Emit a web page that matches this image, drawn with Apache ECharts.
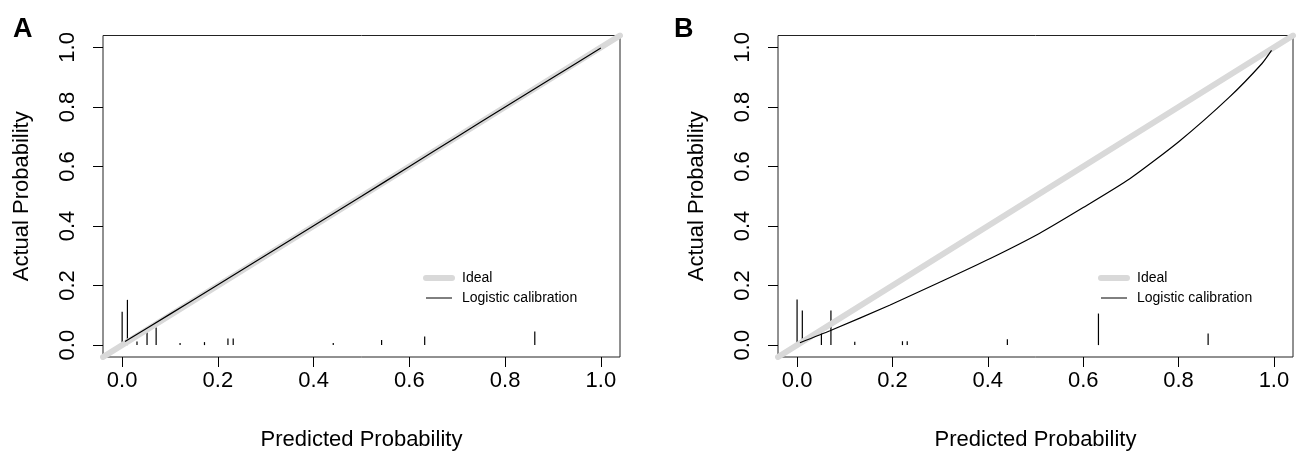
<!DOCTYPE html>
<html>
<head>
<meta charset="utf-8">
<script src="https://cdn.jsdelivr.net/npm/echarts@6/dist/echarts.min.js"></script>
<style>
html,body{margin:0;padding:0;background:#fff;}
#chart{width:1301px;height:456px;}
</style>
</head>
<body>
<div id="chart"></div>
<script>
// ---- data ----
const tickValues = [0, 0.2, 0.4, 0.6, 0.8, 1.0];
const panelLabels = ['A', 'B'];
const legendNames = ['Ideal', 'Logistic calibration'];

// Ideal reference line (y = x) endpoints across the axis range
const idealX = [-0.04, 1.04];
const idealY = [-0.04, 1.04];

// Panel A logistic calibration curve
const calAX = [0.006, 0.1, 0.2, 0.3, 0.4, 0.5, 0.6, 0.7, 0.8, 0.9, 1.0];
const calAY = [0.012, 0.104, 0.203, 0.302, 0.401, 0.5, 0.6, 0.7, 0.8, 0.899, 0.998];

// Panel B logistic calibration curve
const calBX = [0.006, 0.069, 0.194, 0.299, 0.404, 0.508, 0.6, 0.697, 0.801, 0.906, 0.975, 0.995];
const calBY = [0.008, 0.048, 0.134, 0.211, 0.290, 0.375, 0.462, 0.558, 0.684, 0.832, 0.946, 0.990];

// Distribution spikes of predicted probabilities (position, height)
const spikeAX = [0.0, 0.011, 0.031, 0.052, 0.071, 0.121, 0.172, 0.221, 0.232, 0.441, 0.542, 0.632, 0.862];
const spikeAH = [0.112, 0.152, 0.012, 0.046, 0.059, 0.007, 0.01, 0.022, 0.022, 0.007, 0.017, 0.029, 0.046];
const spikeBX = [0.0, 0.011, 0.051, 0.071, 0.121, 0.221, 0.231, 0.441, 0.632, 0.862];
const spikeBH = [0.153, 0.116, 0.039, 0.116, 0.011, 0.013, 0.013, 0.02, 0.106, 0.039];

// ---- chart ----
const FONT = '"Liberation Sans", Arial, Helvetica, sans-serif';
const zip = (a, b) => a.map((v, i) => [v, b[i]]);

function axisCommon(name, isY) {
  return {
    type: 'value', min: -0.04, max: 1.04,
    name: name, nameLocation: 'middle',
    nameGap: isY ? 70 : 72,
    nameTextStyle: {fontFamily: FONT, fontSize: 22, color: '#000'},
    axisLine: {show: false, onZero: false},
    splitLine: {show: false},
    axisTick: {show: true, inside: false, length: 10, customValues: tickValues,
      lineStyle: {color: '#000', width: 1}},
    axisLabel: {show: true, customValues: tickValues, rotate: isY ? 90 : 0,
      margin: isY ? 24 : 13,
      fontFamily: FONT, fontSize: 22, color: '#000',
      formatter: v => v.toFixed(1)}
  };
}

const grids = [
  {left: 103, top: 35.5, width: 517, height: 323},
  {left: 778, top: 35.5, width: 515, height: 323}
];

const option = {
  animation: false,
  backgroundColor: '#fff',
  title: [
    {text: panelLabels[0], left: 8, top: 11, textStyle: {fontFamily: FONT, fontSize: 27, fontWeight: 'bold', color: '#000'}},
    {text: panelLabels[1], left: 669, top: 11, textStyle: {fontFamily: FONT, fontSize: 27, fontWeight: 'bold', color: '#000'}}
  ],
  grid: grids.map(g => Object.assign({show: true, borderColor: '#222', borderWidth: 1, backgroundColor: 'transparent'}, g)),
  xAxis: [Object.assign(axisCommon('Predicted Probability', false), {gridIndex: 0}),
          Object.assign(axisCommon('Predicted Probability', false), {gridIndex: 1})],
  yAxis: [Object.assign(axisCommon('Actual Probability', true), {gridIndex: 0}),
          Object.assign(axisCommon('Actual Probability', true), {gridIndex: 1})],
  legend: [423, 1098].map(l => ({
    left: l, top: 271, padding: 0, orient: 'vertical', itemWidth: 26, itemHeight: 14, itemGap: 6,
    data: [
      {name: legendNames[0], lineStyle: {color: '#d9d9d9', width: 6, cap: 'round'}},
      {name: legendNames[1], lineStyle: {color: '#000', width: 1}}
    ],
    selectedMode: false,
    itemStyle: {opacity: 0},
    textStyle: {fontFamily: FONT, fontSize: 14, color: '#000', lineHeight: 14, padding: [0, 0, 0, 5]}
  })),
  series: []
};

function spikeSeries(i, xs, hs) {
  return {
    type: 'custom', xAxisIndex: i, yAxisIndex: i, silent: true,
    data: zip(xs, hs),
    renderItem: (params, api) => {
      const p0 = api.coord([api.value(0), 0]);
      const p1 = api.coord([api.value(0), api.value(1)]);
      return {type: 'line', shape: {x1: p0[0], y1: p0[1], x2: p1[0], y2: p1[1]},
        style: {stroke: '#000', lineWidth: 1.2}};
    }
  };
}

[[calAX, calAY, spikeAX, spikeAH], [calBX, calBY, spikeBX, spikeBH]].forEach((d, i) => {
  option.series.push({
    name: legendNames[0], type: 'line', xAxisIndex: i, yAxisIndex: i,
    data: zip(idealX, idealY), symbol: 'none', clip: true, silent: true,
    itemStyle: {color: '#d9d9d9'},
    lineStyle: {color: '#d9d9d9', width: 6, cap: 'round'}
  });
  option.series.push({
    name: legendNames[1], type: 'line', xAxisIndex: i, yAxisIndex: i,
    data: zip(d[0], d[1]), symbol: 'none', smooth: 0.2, clip: true, silent: true,
    itemStyle: {color: '#000'},
    lineStyle: {color: '#000', width: 1.2}
  });
  option.series.push(spikeSeries(i, d[2], d[3]));
});

const chart = echarts.init(document.getElementById('chart'), null, {renderer: 'canvas'});
chart.setOption(option);
</script>
</body>
</html>
